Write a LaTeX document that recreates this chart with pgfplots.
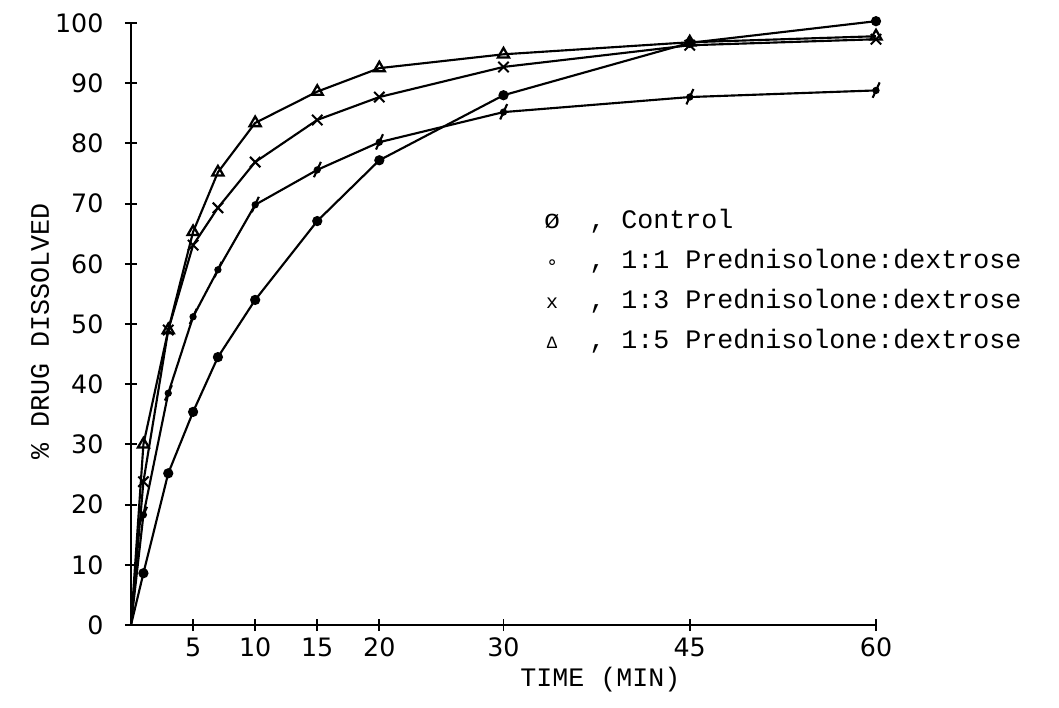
\documentclass[border=0pt]{standalone}
\usepackage{pgfplots}
\usepackage{pgfplotstable}
\pgfplotsset{compat=1.18}
\usepackage{fontspec}
\setmainfont{Liberation Mono}
\newfontfamily\tickfont{DejaVu Sans}

% dot with a slash through it, as typed for the control series
\pgfdeclareplotmark{slashdot}{%
  \pgfpathcircle{\pgfpointorigin}{0.55\pgfplotmarksize}\pgfusepathqfill
  \pgfpathmoveto{\pgfqpoint{-0.5\pgfplotmarksize}{-1.1\pgfplotmarksize}}%
  \pgfpathlineto{\pgfqpoint{0.55\pgfplotmarksize}{1.2\pgfplotmarksize}}%
  \pgfusepathqstroke}

\pgfplotstableread{
t  ctrl  r1    r3    r5
0  0     0     0     0
1  18.3  8.6   23.8  30.0
3  38.5  25.2  49.0  49.0
5  51.2  35.4  63.1  65.3
7  59.0  44.5  69.3  75.2
10 69.8  54.0  76.9  83.4
15 75.6  67.1  83.9  88.6
20 80.2  77.2  87.7  92.5
30 85.2  88.0  92.7  94.8
45 87.7  96.7  96.3  96.8
60 88.8  100.3 97.3  97.8
}\dissol

\begin{document}
\begin{tikzpicture}
\useasboundingbox (-98.25pt,-61.5pt) rectangle (696pt,468.75pt);
\begin{axis}[
  at={(0,0)}, anchor=south west,
  scale only axis, width=558.75pt, height=451.5pt,
  xmin=0, xmax=60, ymin=0, ymax=100,
  clip=false,
  axis x line*=bottom, axis y line*=left,
  axis line style={line width=2.2pt, -},
  xtick={5,10,15,20,30,45,60},
  ytick={0,10,...,100},
  tick align=center, major tick length=9pt,
  tick style={line width=1.4pt, black},
  /pgf/number format/assume math mode=true,
  ticklabel style={font=\tickfont\fontsize{19}{22}\selectfont},
  xticklabel style={anchor=north, inner sep=0pt, yshift=-5pt},
  yticklabel style={anchor=east, inner sep=0pt, xshift=-16pt},
  xlabel={TIME (MIN)}, ylabel={\% DRUG DISSOLVED},
  label style={font=\fontsize{20}{24}\selectfont},
  xlabel style={at={(axis description cs:0.63,0)}, anchor=center, yshift=-41pt},
  ylabel style={at={(axis description cs:-0.122,0.487)}, anchor=center},
  every axis plot/.append style={black, line width=1.6pt, mark phase=2, mark repeat=1},
]
\addplot[mark=slashdot, mark size=5pt, mark options={solid, line width=1.6pt}]
  table[x=t, y=ctrl] {\dissol};
\addplot[mark=*, mark size=3pt] table[x=t, y=r1] {\dissol};
\addplot[mark=x, mark size=5.5pt, mark options={line width=1.5pt}]
  table[x=t, y=r3] {\dissol};
\addplot[mark=triangle, mark size=4.8pt, mark options={line width=1.7pt}]
  table[x=t, y=r5] {\dissol};

\node[anchor=west, inner sep=0pt, font=\fontsize{20}{30}\selectfont]
  at (axis cs:33.25,57.3) {%
  \begin{tabular}{@{}c@{\hspace{22pt}}l@{}}
  ø & , Control\\
  {\tickfont\fontsize{14}{14}\selectfont∘} & , 1:1 Prednisolone:dextrose\\
  {\fontsize{15}{15}\selectfont x} & , 1:3 Prednisolone:dextrose\\
  {\fontsize{13}{13}\selectfont Δ} & , 1:5 Prednisolone:dextrose
  \end{tabular}};
\end{axis}
\end{tikzpicture}
\end{document}
